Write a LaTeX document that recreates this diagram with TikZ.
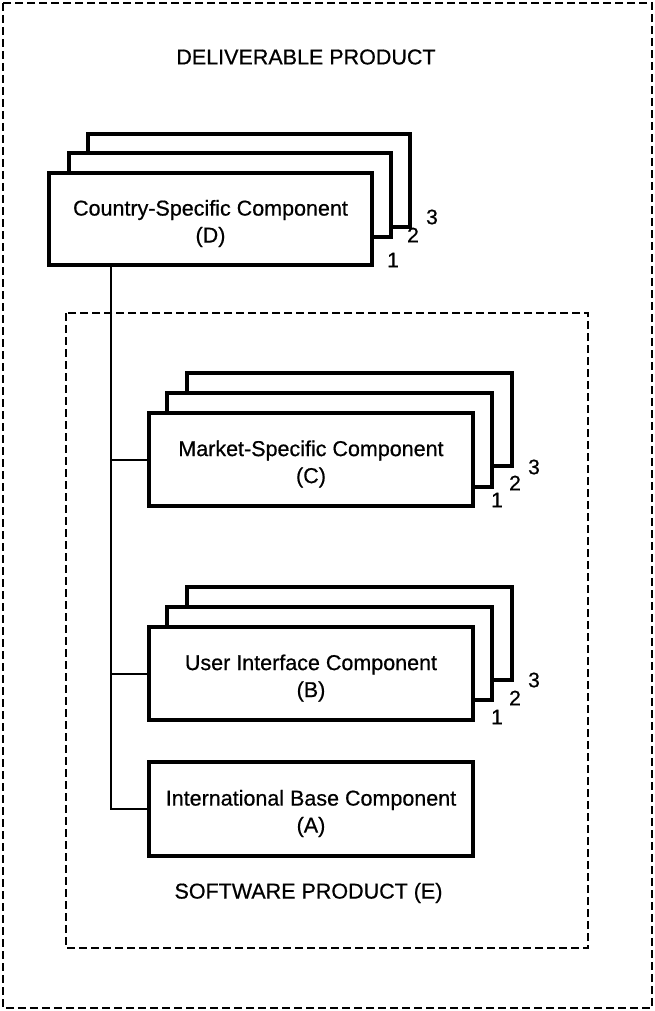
\documentclass[tikz,border=0pt]{standalone}
\usepackage{fontspec}
\setmainfont{Liberation Sans}[FakeBold=0.6]
\begin{document}
\begin{tikzpicture}[x=1pt,y=-1pt,
  frame/.style={draw,line width=2.8pt,dash pattern=on 8pt off 4pt},
  txt/.style={inner sep=0pt,align=center,font=\fontsize{21.5}{27}\selectfont},
  comp/.style={draw,line width=3.4pt,fill=white,inner sep=0pt,
    minimum width=324pt,minimum height=93pt,
    label={[txt,yshift=-4.5pt]center:#1}},
  sheet/.style={draw,line width=3.4pt,fill=white},
  num/.style={font=\fontsize{21}{24}\selectfont,inner sep=0pt},
  title/.style={font=\fontsize{21.5}{26}\selectfont,inner sep=0pt},
  link/.style={draw,line width=2pt}]
\useasboundingbox (0,0) rectangle (655,1011);
% frames
\draw[frame] (3,3) rectangle (652,1008);
\draw[frame] (66,313) rectangle (588,948);
\node[title] (tdel) at (306,57) {DELIVERABLE PRODUCT};
\node[title] (tsw) at (308.5,893) {SOFTWARE PRODUCT (E)};
% D stack
\draw[sheet] (88,134) rectangle (410,227);
\draw[sheet] (69,153) rectangle (391,237);
\node[comp={Country-Specific Component\\(D)},minimum width=323pt,minimum height=92pt] (D) at (210.5,219) {};
\node[num] (d1) at (393,260) {1};
\node[num] (d2) at (413,235) {2};
\node[num] (d3) at (432,217) {3};
% C stack
\draw[sheet] (187,373) rectangle (512,466);
\draw[sheet] (167,393) rectangle (492,487);
\node[comp={Market-Specific Component\\(C)}] (C) at (311,459.5) {};
\node[num] (c1) at (497,500) {1};
\node[num] (c2) at (515,483) {2};
\node[num] (c3) at (534,467) {3};
% B stack
\draw[sheet] (187,587) rectangle (512,680);
\draw[sheet] (167,607) rectangle (492,700);
\node[comp={User Interface Component\\(B)}] (B) at (311,673.5) {};
\node[num] (b1) at (497,717) {1};
\node[num] (b2) at (515,698) {2};
\node[num] (b3) at (534,680) {3};
% A
\node[comp={International Base Component\\(A)},minimum height=94pt] (A) at (311,809) {};
% connectors
\coordinate (trunk) at (111,265);
\draw[link] (trunk) |- (A.west);
\draw[link] (trunk |- C.west) -- (C.west);
\draw[link] (trunk |- B.west) -- (B.west);
\end{tikzpicture}
\end{document}
